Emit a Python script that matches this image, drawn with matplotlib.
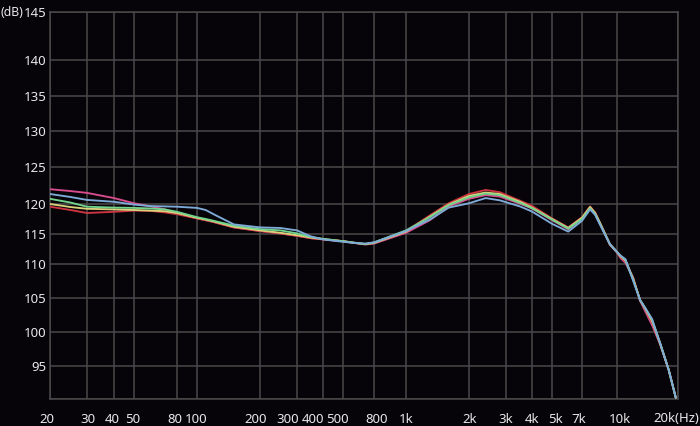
import numpy as np
import matplotlib
matplotlib.use("Agg")
import matplotlib.pyplot as plt
import matplotlib.transforms as mtransforms

# ---- data ----
freq = [20, 25, 30, 40, 50, 60, 70, 80, 100, 110, 120, 150, 200, 250, 300, 350, 400, 500, 600, 700, 800,
        1000, 1300, 1600, 2000, 2400, 2800, 3500, 4000, 5000, 6000, 7000, 7600, 8000, 8400, 9300,
        10000, 10400, 11000, 12000, 13000, 13800, 14900, 16300, 18000, 19500]

blue = [121.35, 120.95, 120.55, 120.3, 119.9, 119.65, 119.6, 119.55, 119.35, 119.0, 118.3, 116.6, 116.1, 116.0,
        115.6, 114.6, 114.1, 113.7, 113.5, 113.4, 113.6, 115.5, 117.4, 119.4, 120.1, 120.8, 120.5, 119.6, 118.75,
        116.7, 115.4, 117.2, 119.1, 118.2, 116.6, 113.3, 112.0, 111.4, 110.8, 107.6, 104.7, 103.5, 101.9,
        98.4, 94.4, 90.2]
green = [120.7, 120.2, 119.55, 119.4, 119.35, 119.25, 119.1, 118.7, 117.8, 117.5, 117.2, 116.4, 115.8, 115.6,
         115.1, 114.5, 114.2, 113.8, 113.55, 113.35, 113.6, 115.6, 117.8, 119.8, 120.9, 121.4, 121.2, 120.15,
         119.3, 117.4, 115.9, 117.5, 119.3, 118.3, 116.7, 113.3, 112.0, 111.4, 110.7, 107.7, 104.7, 103.5,
         101.8, 98.4, 94.4, 90.2]
yellow = [120.0, 119.5, 119.2, 119.1, 119.0, 118.9, 118.8, 118.5, 117.7, 117.4, 117.1, 116.2, 115.6, 115.2,
          114.8, 114.4, 114.15, 113.8, 113.5, 113.3, 113.5, 115.4, 117.9, 119.9, 121.1, 121.55, 121.35, 120.3,
          119.4, 117.5, 116.0, 117.7, 119.5, 118.5, 116.9, 113.3, 112.0, 111.3, 110.6, 107.9, 104.7, 103.4,
          101.6, 98.4, 94.4, 90.2]
red = [119.55, 119.0, 118.5, 118.7, 118.9, 118.85, 118.6, 118.3, 117.6, 117.3, 117.0, 116.1, 115.5, 115.1,
       114.7, 114.3, 114.1, 113.8, 113.5, 113.3, 113.5, 115.5, 118.1, 120.1, 121.35, 121.9, 121.6, 120.45,
       119.7, 117.6, 116.1, 117.8, 119.6, 118.6, 116.9, 113.3, 112.0, 111.2, 110.5, 108.0, 104.6, 103.3,
       101.4, 98.4, 94.4, 90.2]
pink = [122.0, 121.75, 121.5, 120.8, 120.1, 119.6, 119.1, 118.45, 117.6, 117.3, 117.0, 116.1, 115.5, 115.1,
        114.7, 114.3, 114.1, 113.8, 113.5, 113.25, 113.4, 115.2, 117.3, 119.6, 120.7, 121.2, 121.0, 120.05,
        119.25, 117.3, 115.8, 117.6, 119.4, 118.4, 116.8, 113.2, 111.9, 111.0, 110.2, 108.0, 104.6, 103.0,
        101.0, 98.2, 94.4, 90.2]

x_ticks = [20, 30, 40, 50, 80, 100, 200, 300, 400, 500, 800, 1000, 2000, 3000, 4000, 5000, 7000, 10000, 20000]
x_labels = ["20", "30", "40", "50", "80", "100", "200", "300", "400", "500", "800", "1k", "2k", "3k",
            "4k", "5k", "7k", "10k", ""]
y_ticks = [90, 95, 100, 105, 110, 115, 120, 125, 130, 135, 140, 145]
y_labels = ["", "95", "100", "105", "110", "115", "120", "125", "130", "135", "140", "145"]

# ---- the chart's own (hand-drawn, non-uniform) axis scales ----
x_pos = np.array([50, 87, 114, 134, 177, 197, 260, 297, 323, 343, 374, 406, 469, 506, 532, 552, 582, 617, 678], float)
x_log = np.log10(np.array(x_ticks, float))
y_pos = -np.array([399, 366, 332, 298, 264, 234, 204, 167, 131, 96, 60, 12], float)
y_val = np.array(y_ticks, float)
# label offsets (pixels) of the printed x labels relative to their grid lines
x_label_dx = [-3, 1, -2, -1, -2, -1, -4, -9, -10, -6, 3, 0, 1, 0, 0, 3, -3, 3, 0]


def xf(v):
    lv = np.log10(np.clip(np.asarray(v, float), 1e-6, None))
    return np.interp(lv, x_log, x_pos)


def xi(u):
    return 10 ** np.interp(np.asarray(u, float), x_pos, x_log)


def yf(v):
    return np.interp(np.asarray(v, float), y_val, y_pos)


def yi(u):
    return np.interp(np.asarray(u, float), y_pos, y_val)


bg = "#070409"
grid_c = "#4a4848"
txt_c = "#e8e8e8"
fs = 9.5

plt.rcParams['font.family'] = ['Noto Sans', 'DejaVu Sans']

fig = plt.figure(figsize=(7.0, 4.26), dpi=100, facecolor=bg)
ax = fig.add_axes([50 / 700, 27 / 426, 628 / 700, 387 / 426], facecolor=bg)
ax.set_xscale('function', functions=(xf, xi))
ax.set_yscale('function', functions=(yf, yi))
ax.set_xlim(20, 20000)
ax.set_ylim(90, 145)

ax.set_xticks(x_ticks)
ax.set_xticklabels(x_labels)
ax.set_yticks(y_ticks)
ax.set_yticklabels(y_labels)
ax.xaxis.set_minor_locator(matplotlib.ticker.NullLocator())
ax.yaxis.set_minor_locator(matplotlib.ticker.NullLocator())
ax.tick_params(axis='both', length=0, colors=txt_c, labelsize=fs)
ax.tick_params(axis='x', pad=10)
ax.tick_params(axis='y', pad=2.5)
ax.grid(True, color=grid_c, linewidth=1.1)
for s in ax.spines.values():
    s.set_color(grid_c)
    s.set_linewidth(1.1)

for lab, dx in zip(ax.get_xticklabels(), x_label_dx):
    lab.set_transform(lab.get_transform() + mtransforms.ScaledTranslation(dx / 100, 0, fig.dpi_scale_trans))

series = [(pink, "#d84c8e"), (red, "#cc3440"), (yellow, "#d8d27c"), (green, "#72d48c"), (blue, "#7eaad8")]
for vals, col in series:
    ax.plot(freq, vals, color=col, linewidth=1.35, solid_capstyle='round', zorder=3)

fig.text(0.5 / 700, 1 - 12 / 426, "(dB)", color=txt_c, fontsize=8.8, ha='left', va='center')
fig.text(699 / 700, 1 - 418 / 426, "20k(Hz)", color=txt_c, fontsize=fs, ha='right', va='center')

fig.savefig("out.png", dpi=100, facecolor=bg)
